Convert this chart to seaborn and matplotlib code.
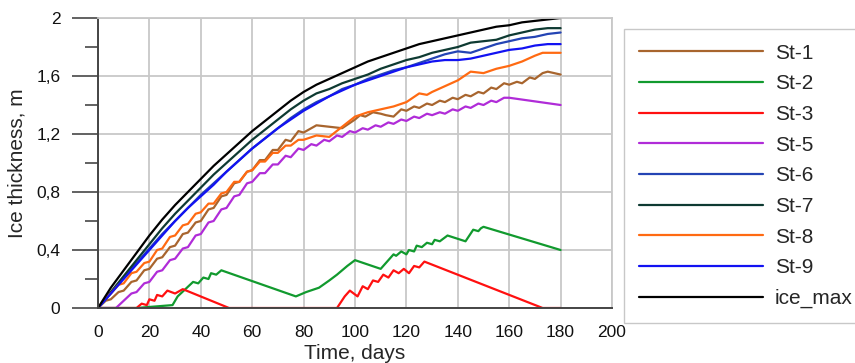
import pandas as pd
import matplotlib.pyplot as plt
import seaborn as sns

# Style
sns.set_style("white")
plt.rcParams['font.family'] = ['Liberation Sans', 'DejaVu Sans']

# Data (days, ice thickness in m)
t5 = list(range(0, 181, 5))

ice_max = [0, 0.14, 0.26, 0.38, 0.50, 0.61, 0.71, 0.80, 0.89, 0.98, 1.06, 1.14, 1.22,
           1.29, 1.36, 1.43, 1.49, 1.54, 1.58, 1.62, 1.66, 1.70, 1.73, 1.76, 1.79, 1.82,
           1.84, 1.86, 1.88, 1.90, 1.92, 1.94, 1.95, 1.97, 1.98, 1.99, 2.00]
st7 = [0, 0.11, 0.22, 0.33, 0.44, 0.55, 0.65, 0.74, 0.83, 0.92, 1.00, 1.08, 1.16,
       1.23, 1.30, 1.37, 1.43, 1.48, 1.51, 1.55, 1.58, 1.61, 1.65, 1.68, 1.71, 1.73,
       1.76, 1.78, 1.80, 1.83, 1.84, 1.85, 1.88, 1.90, 1.92, 1.93, 1.93]
st6 = [0, 0.10, 0.21, 0.31, 0.41, 0.51, 0.60, 0.69, 0.78, 0.86, 0.94, 1.02, 1.10,
       1.17, 1.24, 1.31, 1.37, 1.42, 1.46, 1.51, 1.54, 1.58, 1.61, 1.64, 1.66, 1.69,
       1.72, 1.75, 1.77, 1.76, 1.79, 1.82, 1.84, 1.86, 1.87, 1.89, 1.90]
st9 = [0, 0.10, 0.20, 0.30, 0.40, 0.50, 0.60, 0.69, 0.77, 0.85, 0.94, 1.02, 1.10,
       1.17, 1.24, 1.30, 1.36, 1.41, 1.46, 1.50, 1.54, 1.57, 1.60, 1.63, 1.66, 1.68,
       1.70, 1.71, 1.71, 1.72, 1.74, 1.76, 1.78, 1.79, 1.81, 1.82, 1.82]

t_st8 = [0, 3, 5, 8, 10, 13, 15, 18, 20, 23, 25, 28, 30, 33, 35, 38, 40, 43, 45, 48,
         50, 53, 55, 58, 60, 63, 65, 68, 70, 73, 75, 78, 80, 85, 90, 95, 100, 105,
         110, 115, 120, 125, 128, 130, 135, 140, 145, 150, 155, 160, 165, 170, 173, 180]
st8 = [0, 0.07, 0.10, 0.16, 0.17, 0.24, 0.25, 0.31, 0.32, 0.40, 0.41, 0.49, 0.50,
       0.57, 0.58, 0.65, 0.66, 0.72, 0.72, 0.79, 0.80, 0.87, 0.87, 0.94, 0.95, 1.01,
       1.01, 1.07, 1.07, 1.12, 1.12, 1.16, 1.16, 1.19, 1.18, 1.25, 1.32, 1.35, 1.37,
       1.39, 1.42, 1.48, 1.47, 1.49, 1.53, 1.57, 1.63, 1.62, 1.65, 1.67, 1.70, 1.74,
       1.76, 1.76]

t_st1 = [0, 3, 5, 8, 10, 13, 15, 18, 20, 23, 25, 28, 30, 33, 35, 38, 40, 43, 45, 48,
         50, 53, 55, 58, 60, 63, 65, 68, 70, 73, 75, 78, 80, 85, 90, 95, 100, 102,
         104, 107, 110, 112, 115, 118, 120, 123, 125, 128, 130, 133, 135, 138, 140,
         143, 145, 148, 150, 153, 155, 158, 160, 163, 165, 168, 170, 173, 175, 180]
st1 = [0, 0.05, 0.06, 0.11, 0.12, 0.18, 0.19, 0.26, 0.27, 0.34, 0.35, 0.42, 0.43,
       0.51, 0.52, 0.59, 0.60, 0.68, 0.69, 0.77, 0.78, 0.86, 0.87, 0.94, 0.95, 1.02,
       1.02, 1.09, 1.09, 1.16, 1.15, 1.22, 1.21, 1.26, 1.25, 1.24, 1.30, 1.33, 1.32,
       1.35, 1.34, 1.33, 1.32, 1.37, 1.36, 1.39, 1.38, 1.41, 1.40, 1.43, 1.42, 1.45,
       1.44, 1.47, 1.46, 1.49, 1.48, 1.52, 1.51, 1.55, 1.54, 1.56, 1.55, 1.59, 1.58,
       1.62, 1.63, 1.61]

t_st5 = [0, 7, 10, 13, 15, 18, 20, 23, 25, 28, 30, 33, 35, 38, 40, 43, 45, 48, 50,
         53, 55, 58, 60, 63, 65, 68, 70, 73, 75, 78, 80, 83, 85, 88, 90, 93, 95, 98,
         100, 103, 105, 108, 110, 113, 115, 118, 120, 123, 125, 128, 130, 133, 135,
         138, 140, 143, 145, 148, 150, 153, 155, 158, 160, 180]
st5 = [0, 0, 0.05, 0.10, 0.11, 0.17, 0.18, 0.25, 0.26, 0.33, 0.34, 0.41, 0.42, 0.50,
       0.51, 0.59, 0.60, 0.68, 0.69, 0.77, 0.78, 0.86, 0.87, 0.93, 0.93, 0.99, 0.99,
       1.05, 1.04, 1.10, 1.09, 1.13, 1.12, 1.16, 1.15, 1.19, 1.18, 1.22, 1.21, 1.24,
       1.23, 1.26, 1.25, 1.28, 1.27, 1.30, 1.29, 1.32, 1.31, 1.34, 1.33, 1.35, 1.34,
       1.37, 1.36, 1.39, 1.38, 1.41, 1.40, 1.43, 1.42, 1.45, 1.45, 1.40]

t_st2 = [0, 15, 29, 31, 34, 37, 39, 41, 43, 44, 46, 48, 77, 81, 86, 90, 93, 97, 100,
         110, 113, 115, 116, 118, 120, 121, 123, 124, 126, 128, 130, 131, 133, 136,
         143, 146, 148, 149, 150, 180]
st2 = [0, 0, 0.02, 0.08, 0.13, 0.18, 0.17, 0.21, 0.20, 0.24, 0.23, 0.26, 0.08, 0.11,
       0.14, 0.19, 0.23, 0.29, 0.33, 0.27, 0.33, 0.37, 0.36, 0.39, 0.37, 0.40, 0.39,
       0.43, 0.42, 0.45, 0.44, 0.47, 0.46, 0.50, 0.46, 0.54, 0.53, 0.55, 0.56, 0.40]

t_st3 = [0, 15, 17, 19, 20, 22, 23, 25, 27, 30, 33, 51, 93, 96, 98, 101, 103, 105,
         107, 109, 111, 113, 115, 117, 119, 121, 123, 125, 127, 173, 180]
st3 = [0, 0, 0.03, 0.02, 0.06, 0.05, 0.09, 0.08, 0.12, 0.10, 0.13, 0, 0, 0.08, 0.12,
       0.08, 0.15, 0.13, 0.19, 0.18, 0.23, 0.21, 0.26, 0.24, 0.27, 0.24, 0.29, 0.28,
       0.32, 0, 0]

names = ['St-1', 'St-2', 'St-3', 'St-5', 'St-6', 'St-7', 'St-8', 'St-9', 'ice_max']
colors = ['#a8652e', '#119a2e', '#ff1010', '#b02cd8', '#2444b4', '#0e3a32',
          '#ff6a12', '#1212f2', '#000000']

series = {
    'St-1': (t_st1, st1), 'St-2': (t_st2, st2), 'St-3': (t_st3, st3),
    'St-5': (t_st5, st5), 'St-6': (t5, st6), 'St-7': (t5, st7),
    'St-8': (t_st8, st8), 'St-9': (t5, st9), 'ice_max': (t5, ice_max),
}

frames = []
for name in names:
    t, v = series[name]
    frames.append(pd.DataFrame({'Time': t, 'Ice': v, 'Station': name}))
df = pd.concat(frames, ignore_index=True)

fig = plt.figure(figsize=(8.55, 3.63), dpi=100)
ax = fig.add_axes([0.1146, 0.1515, 0.6012, 0.7989])

sns.lineplot(data=df, x='Time', y='Ice', hue='Station', hue_order=names,
             palette=dict(zip(names, colors)), estimator=None, sort=False,
             linewidth=1.6, ax=ax, legend=False)

ax.set_xlim(0, 200)
ax.set_ylim(0, 2)
ax.set_xticks(range(0, 201, 20))
ax.set_yticks([0, 0.4, 0.8, 1.2, 1.6, 2.0])
ax.set_yticklabels(['0', '0,4', '0,8', '1,2', '1,6', '2'])
ax.set_yticks([0.2, 0.6, 1.0, 1.4, 1.8], minor=True)

ax.grid(True, which='major', color='#c8c8c8', linewidth=1.3)
ax.set_axisbelow(True)

ax.tick_params(axis='x', length=0, pad=12, labelsize=12.5, labelcolor='#111111')
ax.tick_params(axis='y', which='major', direction='out', length=19, width=1.3,
               color='#555555', pad=8, labelsize=12.5, labelcolor='#111111', left=True)
ax.tick_params(axis='y', which='minor', direction='out', length=9.5, width=1.3,
               color='#555555', left=True)

for side in ['left', 'bottom']:
    ax.spines[side].set_color('#444444')
    ax.spines[side].set_linewidth(1.4)
for side in ['top', 'right']:
    ax.spines[side].set_color('#c8c8c8')
    ax.spines[side].set_linewidth(1.3)

ax.set_xlabel('Time, days', fontsize=15, va='center')
ax.set_ylabel('Ice thickness, m', fontsize=15, va='center')
ax.xaxis.set_label_coords(0.5, -0.158)
ax.yaxis.set_label_coords(-0.158, 0.5)

handles = [plt.Line2D([], [], color=c, linewidth=1.6) for c in colors]
leg = fig.legend(handles, names, loc='upper left', bbox_to_anchor=(0.7298, 0.920),
                 bbox_transform=fig.transFigure, borderaxespad=0, fontsize=15,
                 handlelength=5.96, handletextpad=0.58, borderpad=0.7,
                 labelspacing=0.56, fancybox=False, framealpha=1)
leg.get_frame().set_edgecolor('#c8c8c8')
leg.get_frame().set_linewidth(1.0)

fig.savefig('out.png', dpi=100)
plt.close(fig)
